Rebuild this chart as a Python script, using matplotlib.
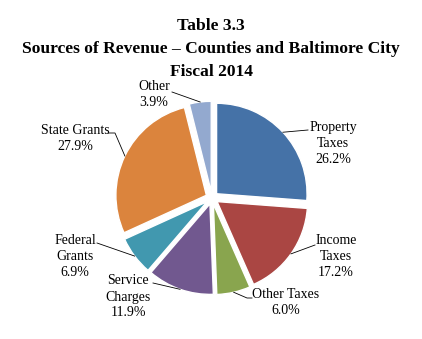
import math
import matplotlib
matplotlib.use("Agg")
import matplotlib.pyplot as plt

# Revenue shares, clockwise from 12 o'clock
categories = ["Property\nTaxes", "Income\nTaxes", "Other Taxes", "Service\nCharges",
              "Federal\nGrants", "State Grants", "Other"]
shares = [26.2, 17.2, 6.0, 11.9, 6.9, 27.9, 3.9]
colors = ["#4572A7", "#AA4643", "#89A54E", "#71588F", "#4198AF", "#DB843D", "#93A9CF"]

W, H = 422, 339
DPI = 100
fig = plt.figure(figsize=(W / DPI, H / DPI), dpi=DPI)
fig.patch.set_facecolor("white")

serif = ["Liberation Serif", "DejaVu Serif"]

# pie geometry in pixels (from the top-left corner)
cx, cy, R = 212, 198, 87
lim = 1.3
side = 2 * lim * R
ax = fig.add_axes([(cx - side / 2) / W, (H - cy - side / 2) / H, side / W, side / H])
ax.set_xlim(-lim, lim)
ax.set_ylim(-lim, lim)
ax.set_aspect("equal")
ax.axis("off")

explode = 0.069
wedges, _ = ax.pie(shares, colors=colors, startangle=90, counterclock=False,
                   explode=[explode] * len(shares), radius=1.0,
                   wedgeprops=dict(edgecolor="white", linewidth=1.0))

# label text centres (pixels from top-left) and leader end points
label_pos = [(333, 143), (336, 257), (286, 303), (128, 297), (75, 256), (75, 138), (154, 94)]
leader_end = [[(308, 130)], [(315, 245)], [(247, 298), (252, 298)], [(153, 283)],
              [(97, 243)], [(115, 133), (108, 133)], [(172, 92)]]

for w, cat, val, (lx, ly), ends in zip(wedges, categories, shares, label_pos, leader_end):
    mid = math.radians(0.5 * (w.theta1 + w.theta2))
    ox, oy = w.center
    px = ox + w.r * math.cos(mid)
    py = oy + w.r * math.sin(mid)
    pts = [(px, py)]
    for ex, ey in ends:
        d = ax.transData.inverted().transform((ex, H - ey))
        pts.append((d[0], d[1]))
    xs, ys = zip(*pts)
    ax.plot(xs, ys, color="black", lw=0.6, clip_on=False)
    fig.text(lx / W, 1 - ly / H, f"{cat}\n{val:.1f}%", ha="center", va="center",
             multialignment="center", fontsize=10, family=serif, linespacing=1.3)

title_lines = ["Table 3.3", "Sources of Revenue \u2013 Counties and Baltimore City", "Fiscal 2014"]
for i, t in enumerate(title_lines):
    fig.text(0.5, 1 - (30 + 23 * i) / H, t, ha="center", va="baseline",
             fontsize=12.6, fontweight="bold", family=serif)

fig.savefig("out.png", dpi=DPI)
